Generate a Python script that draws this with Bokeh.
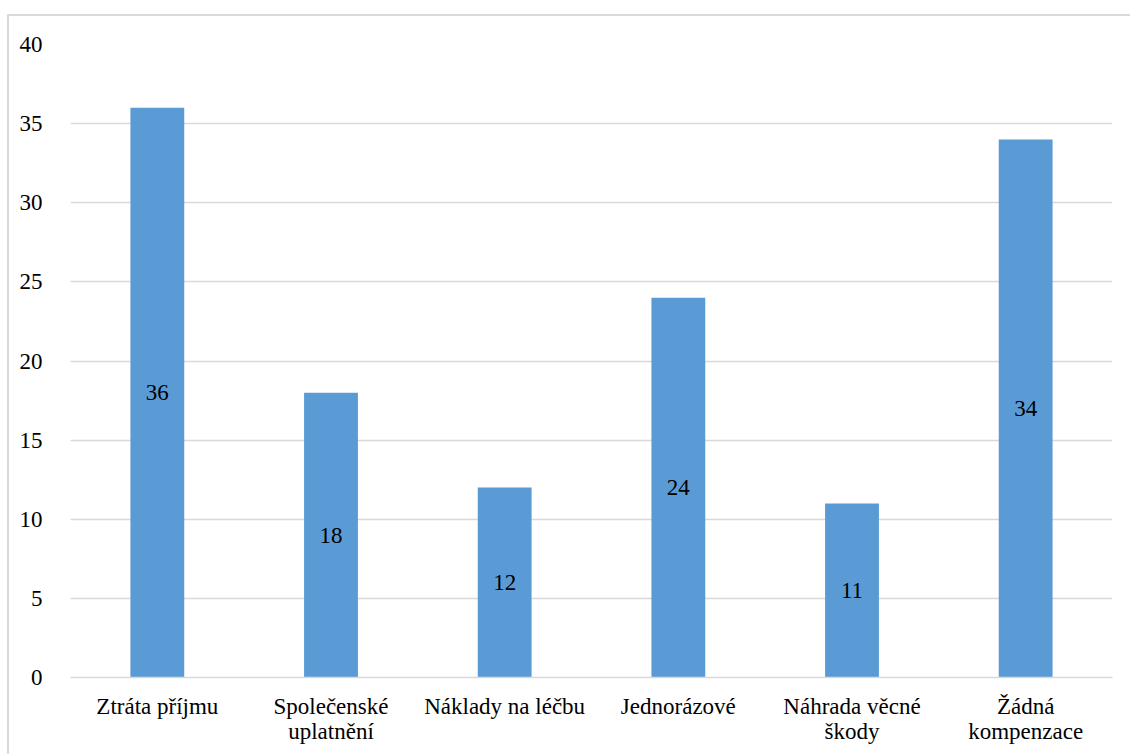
from bokeh.plotting import figure
from bokeh.models import ColumnDataSource, FixedTicker, LabelSet
from bokeh.embed import file_html
from bokeh.resources import INLINE

categories = ["Ztráta příjmu", "Společenské\nuplatnění", "Náklady na léčbu",
              "Jednorázové", "Náhrada věcné\nškody", "Žádná\nkompenzace"]
values = [36, 18, 12, 24, 11, 34]
y_ticks = [0, 5, 10, 15, 20, 25, 30, 35, 40]

FONT = "Liberation Serif"
FSIZE = "23px"

src = ColumnDataSource(dict(
    cat=categories,
    val=values,
    mid=[v / 2 for v in values],
    lab=[str(v) for v in values],
))

p = figure(x_range=categories, y_range=(0, 40), width=1123, height=740,
           output_backend="svg", toolbar_location=None,
           min_border_left=61, min_border_right=20,
           min_border_top=28, min_border_bottom=79)
p.outline_line_color = None
p.background_fill_color = "white"
p.border_fill_color = "white"
p.styles = {"margin-left": "7px", "margin-top": "14px",
            "border-top": "2px solid #d9d9d9", "border-left": "2px solid #d9d9d9"}

p.vbar(x="cat", top="val", width=0.31, source=src,
       fill_color="#5b9bd5", line_color=None)

labels = LabelSet(x="cat", y="mid", text="lab", source=src,
                  text_align="center", text_baseline="middle",
                  text_font=FONT, text_font_size=FSIZE, text_color="#000000")
p.add_layout(labels)

p.yaxis.ticker = FixedTicker(ticks=y_ticks)
p.yaxis.axis_line_color = None
p.yaxis.major_tick_line_color = None
p.yaxis.minor_tick_line_color = None
p.yaxis.major_label_text_font = FONT
p.yaxis.major_label_text_font_size = FSIZE
p.yaxis.major_label_text_color = "#000000"
p.yaxis.major_label_standoff = 22

xa = p.xaxis[0]
xa.axis_line_color = "#d9d9d9"
xa.axis_line_width = 1.5
xa.major_tick_line_color = None
xa.minor_tick_line_color = None
xa.major_label_text_font = FONT
xa.major_label_text_font_size = FSIZE
xa.major_label_text_color = "#000000"
xa.major_label_text_line_height = 1.0
xa.major_label_standoff = 10

p.xgrid.grid_line_color = None
p.ygrid.grid_line_color = "#d9d9d9"
p.ygrid.grid_line_width = 1.5
p.x_range.range_padding = 0.0

open("out.html", "w").write(file_html(p, INLINE))
